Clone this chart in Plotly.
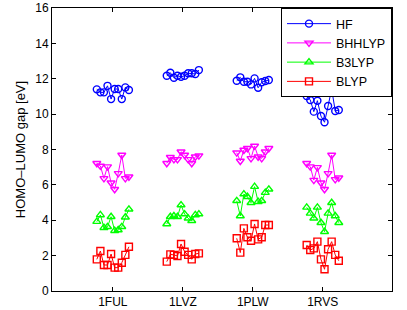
import plotly.graph_objects as go

categories = ["1FUL", "1LVZ", "1PLW", "1RVS"]

hf = [
    [11.40, 11.23, 11.23, 11.60, 10.85, 11.42, 11.42, 10.85, 11.51, 11.36],
    [12.17, 12.34, 12.06, 12.17, 12.11, 12.17, 12.31, 12.31, 12.27, 12.49],
    [11.89, 12.08, 11.83, 11.83, 11.68, 12.02, 11.49, 11.80, 11.87, 11.93],
    [11.02, 10.80, 10.14, 10.76, 9.89, 9.54, 10.46, 11.42, 10.18, 10.23],
]
bhhlyp = [
    [7.22, 7.07, 6.37, 7.03, 6.12, 5.75, 6.65, 7.69, 6.37, 6.46],
    [7.22, 7.56, 7.44, 7.44, 7.87, 7.69, 7.44, 7.22, 7.59, 7.65],
    [7.82, 7.35, 7.97, 8.07, 7.50, 8.20, 7.59, 7.50, 7.87, 8.07],
    [7.22, 7.03, 6.27, 6.99, 6.12, 5.75, 6.65, 7.69, 6.31, 6.40],
]
b3lyp = [
    [3.92, 4.30, 3.58, 3.63, 4.20, 3.41, 3.45, 3.63, 4.17, 4.62],
    [3.79, 4.20, 4.24, 4.20, 4.86, 4.35, 4.11, 3.97, 4.30, 4.35],
    [5.10, 4.24, 5.48, 5.33, 4.99, 5.90, 5.05, 5.10, 5.56, 5.75],
    [4.73, 4.39, 4.11, 4.73, 3.86, 3.35, 4.39, 4.99, 4.24, 3.86],
]
blyp = [
    [1.79, 2.26, 1.47, 1.47, 2.09, 1.32, 1.32, 1.60, 2.04, 2.50],
    [1.66, 2.07, 2.04, 1.98, 2.66, 2.22, 2.04, 1.79, 2.09, 2.13],
    [2.98, 2.17, 3.54, 3.04, 2.84, 3.79, 2.92, 3.04, 3.73, 3.73],
    [2.60, 2.32, 2.41, 2.79, 1.79, 1.23, 2.36, 2.79, 2.04, 1.71],
]

series = [
    ("HF", hf, "#0000ff", "circle-open"),
    ("BHHLYP", bhhlyp, "#ff00ff", "triangle-down-open"),
    ("B3LYP", b3lyp, "#00ff00", "triangle-up-open"),
    ("BLYP", blyp, "#ff0000", "square-open"),
]

FONT = "Liberation Sans, Arial, sans-serif"

fig = go.Figure()
for name, data, color, sym in series:
    xs, ys = [], []
    for gi, vals in enumerate(data):
        n = len(vals)
        for k, v in enumerate(vals):
            xs.append(gi + 1 + (k - (n - 1) / 2) * 0.051)
            ys.append(v)
        xs.append(None)
        ys.append(None)
    fig.add_trace(go.Scatter(
        x=xs, y=ys, name=name, mode="lines+markers",
        line=dict(color=color, width=1),
        marker=dict(symbol=sym, size=7, color=color, line=dict(color=color, width=1.4)),
        connectgaps=False,
    ))

axis_common = dict(
    showline=True, linecolor="black", linewidth=1, mirror="ticks",
    ticks="inside", ticklen=4, tickcolor="black", showgrid=False, zeroline=False,
    tickfont=dict(family=FONT, size=12, color="black"),
)
fig.update_xaxes(range=[0.13, 4.99], tickvals=[1, 2, 3, 4], ticktext=categories, **axis_common)
fig.update_yaxes(range=[0, 16], dtick=2, title=dict(text="HOMO\u2013LUMO gap [eV]", standoff=6,
                 font=dict(family=FONT, size=13, color="black")),
                 **axis_common)

fig.update_layout(
    width=407, height=310,
    margin=dict(l=52, r=15, t=8, b=19, autoexpand=False),
    plot_bgcolor="white", paper_bgcolor="white",
    legend=dict(x=1, y=1, xanchor="right", yanchor="top", bordercolor="black", borderwidth=1,
                bgcolor="white", tracegroupgap=0, itemwidth=44,
                entrywidth=66, entrywidthmode="pixels",
                font=dict(family=FONT, size=12.5, color="black")),
    showlegend=True,
)
fig.write_html("out.html", config={"displayModeBar": False},
               post_script="document.body.style.margin='0';")
